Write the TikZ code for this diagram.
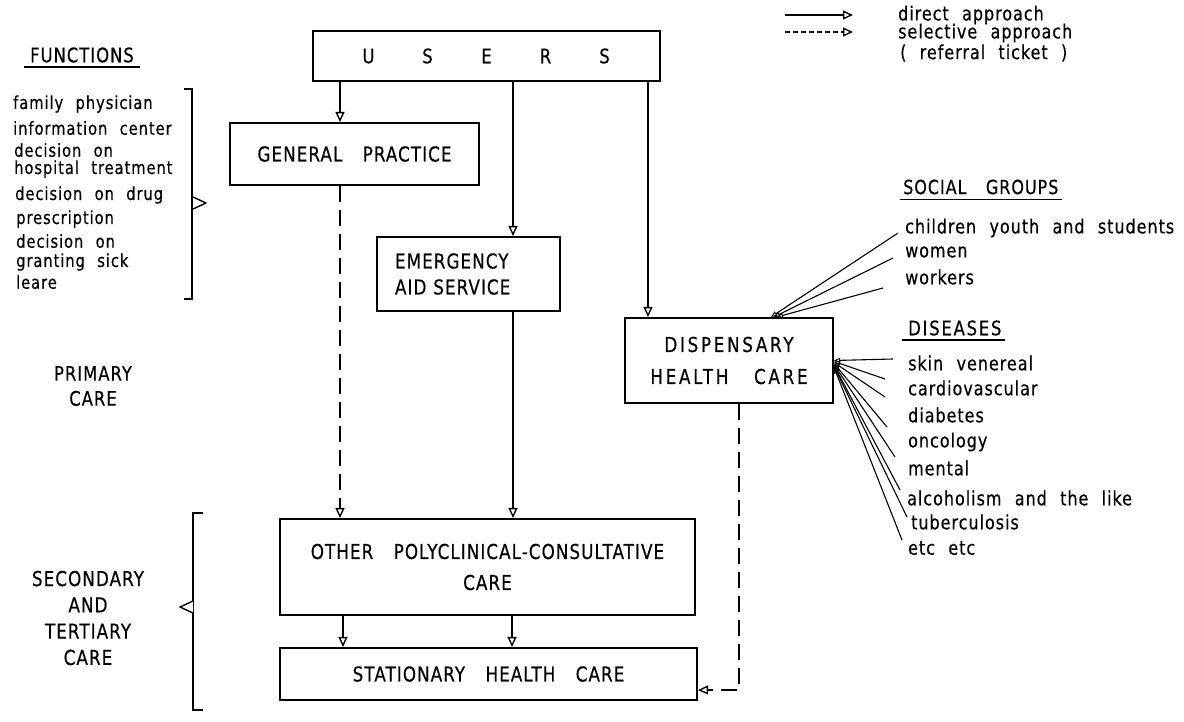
\documentclass[tikz,border=0pt]{standalone}
\usepackage{fontspec}
\setmainfont{DejaVu Sans}[FakeStretch=0.82, FakeBold=0.4, LetterSpace=5, WordSpace=2.2]
\newfontfamily\boxfont{DejaVu Sans}[FakeStretch=0.82, FakeBold=0.4, LetterSpace=5, WordSpace=3.2]
\usetikzlibrary{arrows.meta,calc}

\begin{document}
\begin{tikzpicture}[x=1pt,y=-1pt,
  box/.style={draw, line width=2.1pt, inner sep=0pt, align=center,
    font=\boxfont\fontsize{20.5}{31}\selectfont},
  conn/.style={line width=1.5pt, -{Triangle[open,length=10pt,width=9pt,line width=1.4pt]}},
  sel/.style={conn, dash pattern=on 16pt off 8pt},
  fan/.style={line width=1.1pt, -{Triangle[open,length=6pt,width=5pt,line width=0.9pt]}},
  lbl/.style={inner sep=0pt, anchor=west, font=\fontsize{18}{20}\selectfont},
  rlbl/.style={inner sep=0pt, anchor=west, font=\fontsize{19.5}{22}\selectfont},
  head/.style={inner sep=0pt, font=\boxfont\fontsize{20}{26}\selectfont, align=center},
  uline/.style={line width=1.8pt},
  bracket/.style={line width=1.6pt},
  pointer/.style={line width=1.4pt, fill=white, line join=round}]
\useasboundingbox (0,0) rectangle (1184,721);

% ---- legend ----
\coordinate (la1) at (785,15);
\coordinate (la2) at (853,15);
\coordinate (lb1) at (785,32);
\coordinate (lb2) at (853,32);
\draw[conn] (la1) -- (la2);
\draw[conn, dash pattern=on 5pt off 3pt] (lb1) -- (lb2);
\node[rlbl] (ldir) at (898,15) {direct approach};
\node[rlbl] (lsel) at (898,33) {selective approach};
\node[rlbl] (lref) at (900,53) {( referral ticket )};

% ---- boxes ----
\node[box, line width=2.5pt, minimum width=347pt, minimum height=50pt] (users) at (486.5,56)
  {\fontsize{20}{20}\selectfont\makebox[59pt]{U}\makebox[59pt]{S}\makebox[59pt]{E}\makebox[59pt]{R}\makebox[59pt]{S}};
\node[box, minimum width=249pt, minimum height=62pt] (gp) at (354.5,154) {GENERAL PRACTICE};
\node[box, minimum width=183pt, minimum height=74pt, text width=147pt, align=left,
  font=\boxfont\fontsize{20.5}{26}\selectfont] (em) at (468.5,274) {EMERGENCY\\AID SERVICE};
\node[box, minimum width=208pt, minimum height=85pt,
  font=\boxfont\addfontfeature{LetterSpace=13}\fontsize{20.5}{32}\selectfont] (disp) at (729,360.5)
  {DISPENSARY\\HEALTH CARE};
\node[box, minimum width=415pt, minimum height=96pt] (oth) at (487.5,567)
  {OTHER POLYCLINICAL-CONSULTATIVE\\CARE};
\node[box, minimum width=417pt, minimum height=52pt] (stat) at (488.5,674) {STATIONARY HEALTH CARE};

% ---- flows ----
\coordinate (xa) at (340,0);
\coordinate (xb) at (513,0);
\coordinate (xc) at (648,0);
\coordinate (xd) at (739,0);
\coordinate (xe) at (343,0);
\coordinate (xf) at (512,0);
\draw[conn] (users.south -| xa) -- (gp.north -| xa);
\draw[conn] (users.south -| xb) -- (em.north -| xb);
\draw[conn] (users.south -| xc) -- (disp.north -| xc);
\draw[sel] (gp.south -| xa) -- (oth.north -| xa);
\draw[conn] (em.south -| xb) -- (oth.north -| xb);
\draw[conn] (oth.south -| xe) -- (stat.north -| xe);
\draw[conn] (oth.south -| xf) -- (stat.north -| xf);
\draw[sel] (disp.south -| xd) |- ([yshift=-16pt]stat.east);

% ---- functions ----
\node[head] (fn) at (82,55) {FUNCTIONS};
\draw[uline] ([shift={(-6pt,-4pt)}]fn.south west) -- ([shift={(6pt,-4pt)}]fn.south east);
\node[lbl] (f1) at (13,104) {family physician};
\node[lbl] (f2) at (13,128) {information center};
\node[lbl] (f3) at (14,150) {decision on};
\node[lbl] (f4) at (14,169) {hospital treatment};
\node[lbl] (f5) at (15,195) {decision on drug};
\node[lbl] (f6) at (16,219) {prescription};
\node[lbl] (f7) at (16,241) {decision on};
\node[lbl] (f8) at (16,262) {granting sick};
\node[lbl] (f9) at (16,282) {leare};
\draw[bracket] (184,89) -- (192,89) -- (192,299) -- (184,299);
\draw[pointer] (193,197) -- (206,203) -- (193,209);

% ---- levels of care ----
\node[head, font=\boxfont\fontsize{20}{25}\selectfont] (prim) at (93,386) {PRIMARY\\CARE};
\node[head, font=\boxfont\fontsize{20.5}{26.3}\selectfont] (sec) at (88,618)
  {SECONDARY\\AND\\TERTIARY\\CARE};
\draw[bracket] (203,513) -- (193,513) -- (193,710) -- (203,710);
\draw[pointer] (193,601) -- (180,607) -- (193,613);

% ---- social groups ----
\node[head, anchor=west, font=\boxfont\fontsize{19.5}{20}\selectfont] (sg) at (903,187) {SOCIAL GROUPS};
\draw[uline] ([shift={(-3pt,-5pt)}]sg.south west) -- ([shift={(3pt,-5pt)}]sg.south east);
\node[rlbl] (s1) at (905,228) {children youth and students};
\node[rlbl] (s2) at (905,252) {women};
\node[rlbl] (s3) at (905,277) {workers};
\draw[fan] ([shift={(-7pt,-5pt)}]s1.west) -- ([xshift=42pt]disp.north);
\draw[fan] ([shift={(-12pt,-6pt)}]s2.west) -- ([xshift=45pt]disp.north);
\draw[fan] ([shift={(-22pt,-11pt)}]s3.west) -- ([xshift=48pt]disp.north);

% ---- diseases ----
\node[head, anchor=west, font=\boxfont\addfontfeature{LetterSpace=9}\fontsize{20}{20}\selectfont] (ds) at (908,328) {DISEASES};
\draw[uline] ([shift={(-6pt,-4pt)}]ds.south west) -- ([shift={(3pt,-4pt)}]ds.south east);
\node[rlbl] (d1) at (908,363) {skin venereal};
\node[rlbl] (d2) at (908,388) {cardiovascular};
\node[rlbl] (d3) at (908,415) {diabetes};
\node[rlbl] (d4) at (908,442) {oncology};
\node[rlbl] (d5) at (908,468) {mental};
\node[rlbl] (d6) at (907,498) {alcoholism and the like};
\node[rlbl] (d7) at (911,522) {tuberculosis};
\node[rlbl] (d8) at (908,548) {etc etc};
\draw[fan] ([shift={(-15pt,4pt)}]d1.west) -- ([yshift=0pt]disp.east);
\draw[fan] ([shift={(-23pt,9pt)}]d2.west) -- ([yshift=-1pt]disp.east);
\draw[fan] ([shift={(-23pt,18pt)}]d3.west) -- ([yshift=-2pt]disp.east);
\draw[fan] ([shift={(-21pt,15pt)}]d4.west) -- ([yshift=-3pt]disp.east);
\draw[fan] ([shift={(-13pt,11pt)}]d5.west) -- ([yshift=-4pt]disp.east);
\draw[fan] ([shift={(-7pt,8pt)}]d6.west) -- ([yshift=-5pt]disp.east);
\draw[fan] ([shift={(-4pt,5pt)}]d7.west) -- ([yshift=-6pt]disp.east);
\draw[fan] ([shift={(-6pt,8pt)}]d8.west) -- ([yshift=-7pt]disp.east);
\end{tikzpicture}
\end{document}
